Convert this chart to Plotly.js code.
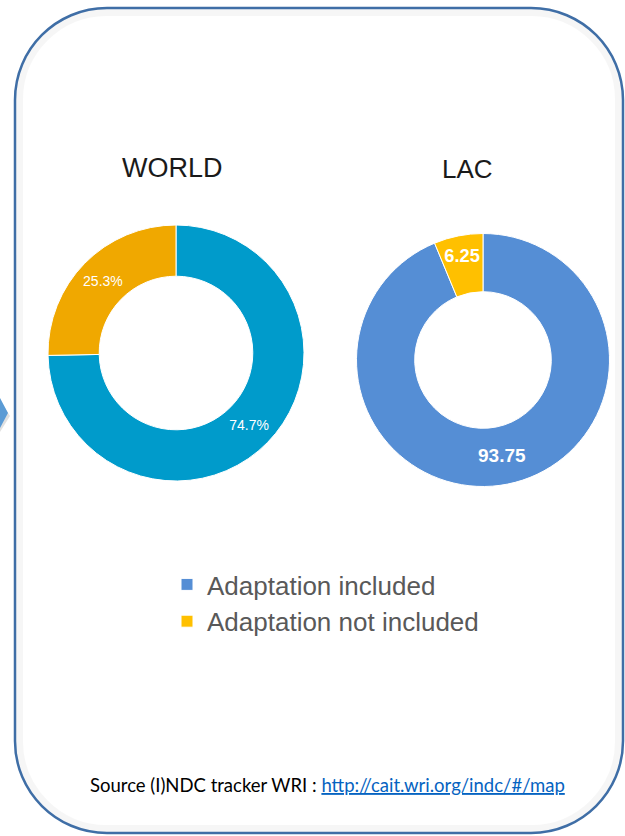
<!DOCTYPE html>
<html>
<head>
<meta charset="utf-8">
<script src="https://cdn.plot.ly/plotly-3.0.1.min.js"></script>
<style>html,body{margin:0;padding:0;background:#fff;}#chart{width:625px;height:836px;}</style>
</head>
<body>
<div id="chart"></div>
<script>
// ---- data ----
var categories = ['Adaptation included', 'Adaptation not included'];
var worldValues = [74.7, 25.3];
var lacValues = [93.75, 6.25];
var chartTitles = ['WORLD', 'LAC'];
var sourceLabel = 'Source (I)NDC tracker WRI : ';
var sourceUrl = 'http://cait.wri.org/indc/#/map';

var W = 625, H = 836;
function px(x) { return x / W; }
function py(y) { return 1 - y / H; }

function roundRect(l, t, r, b, rad) {
  var k = 0.5523 * rad;
  return 'M' + (l + rad) + ',' + t +
    ' L' + (r - rad) + ',' + t +
    ' C' + (r - rad + k) + ',' + t + ' ' + r + ',' + (t + rad - k) + ' ' + r + ',' + (t + rad) +
    ' L' + r + ',' + (b - rad) +
    ' C' + r + ',' + (b - rad + k) + ' ' + (r - rad + k) + ',' + b + ' ' + (r - rad) + ',' + b +
    ' L' + (l + rad) + ',' + b +
    ' C' + (l + rad - k) + ',' + b + ' ' + l + ',' + (b - rad + k) + ' ' + l + ',' + (b - rad) +
    ' L' + l + ',' + (t + rad) +
    ' C' + l + ',' + (t + rad - k) + ' ' + (l + rad - k) + ',' + t + ' ' + (l + rad) + ',' + t + ' Z';
}

var lacTrace = {
  type: 'pie',
  labels: categories,
  values: lacValues,
  hole: 0.54,
  sort: false,
  direction: 'clockwise',
  rotation: 0,
  marker: { colors: ['#558ED5', '#FFC000'], line: { color: '#ffffff', width: 1 } },
  texttemplate: '%{value}',
  textposition: 'inside',
  insidetextorientation: 'horizontal',
  textfont: { family: 'Liberation Sans, Arial, sans-serif', size: 19, color: '#ffffff', weight: 'bold' },
  domain: { x: [px(356.5), px(609.5)], y: [py(486.5), py(233.5)] },
  hoverinfo: 'label+value'
};

var worldTrace = {
  type: 'pie',
  labels: categories,
  values: worldValues,
  hole: 0.6,
  sort: false,
  direction: 'clockwise',
  rotation: 0,
  marker: { colors: ['#009BCB', '#F0A800'], line: { color: '#ffffff', width: 1 } },
  texttemplate: '%{percent:.1%}',
  textposition: 'inside',
  insidetextorientation: 'horizontal',
  textfont: { family: 'Liberation Sans, Arial, sans-serif', size: 14, color: '#ffffff' },
  domain: { x: [px(48), px(304)], y: [py(481), py(225)] },
  showlegend: false,
  hoverinfo: 'label+percent'
};

var layout = {
  width: W,
  height: H,
  margin: { l: 0, r: 0, t: 0, b: 0 },
  paper_bgcolor: '#ffffff',
  plot_bgcolor: 'rgba(0,0,0,0)',
  xaxis: { range: [0, W], visible: false, fixedrange: true, domain: [0, 1] },
  yaxis: { range: [H, 0], visible: false, fixedrange: true, domain: [0, 1] },
  showlegend: true,
  legend: {
    x: px(167), y: py(561), xanchor: 'left', yanchor: 'top',
    font: { family: 'Liberation Sans, Arial, sans-serif', size: 26, color: '#595959' },
    bgcolor: 'rgba(0,0,0,0)',
    traceorder: 'normal'
  },
  shapes: [
    { type: 'path', xref: 'x', yref: 'y', path: roundRect(19, 12, 619, 829, 88),
      line: { color: 'rgba(0,0,0,0.035)', width: 8 }, layer: 'below' },
    { type: 'path', xref: 'x', yref: 'y', path: roundRect(15, 8, 623, 833, 92),
      line: { color: '#3F6EA6', width: 2.5 }, layer: 'above' },
    { type: 'path', xref: 'x', yref: 'y', path: 'M0,400 L10,416 L0,432 Z',
      fillcolor: 'rgba(0,0,0,0.12)', line: { width: 0 }, layer: 'below' },
    { type: 'path', xref: 'x', yref: 'y', path: 'M0,398 L8,413 L0,428 Z',
      fillcolor: '#5B9BD5', line: { width: 0 }, layer: 'above' }
  ],
  annotations: [
    { text: chartTitles[0], xref: 'paper', yref: 'paper', x: px(172.5), y: py(168),
      showarrow: false, xanchor: 'center', yanchor: 'middle',
      font: { family: 'Liberation Sans, Arial, sans-serif', size: 27, color: '#1a1a1a' } },
    { text: chartTitles[1], xref: 'paper', yref: 'paper', x: px(467), y: py(169),
      showarrow: false, xanchor: 'center', yanchor: 'middle',
      font: { family: 'Liberation Sans, Arial, sans-serif', size: 26, color: '#1a1a1a' } },
    { text: sourceLabel + '<a href="' + sourceUrl + '" style="color:#0563C1;text-decoration:underline">' + sourceUrl + '</a>',
      xref: 'paper', yref: 'paper', x: px(327), y: py(785),
      showarrow: false, xanchor: 'center', yanchor: 'middle',
      font: { family: 'Lato, Open Sans, sans-serif', size: 18.5, color: '#000000' } }
  ]
};

Plotly.newPlot('chart', [lacTrace, worldTrace], layout, { displayModeBar: false, staticPlot: true });
</script>
</body>
</html>
